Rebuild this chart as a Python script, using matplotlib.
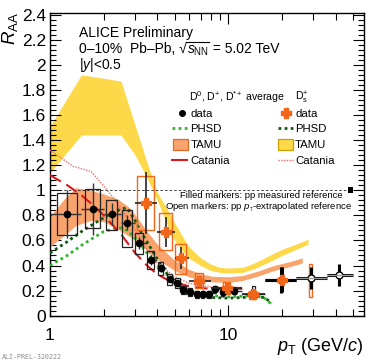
import numpy as np
import matplotlib
matplotlib.use("Agg")
import matplotlib.pyplot as plt
from matplotlib.patches import Rectangle
from matplotlib.lines import Line2D
from matplotlib.ticker import FixedLocator, NullFormatter, FuncFormatter

plt.rcParams.update({
    "font.family": ["Liberation Sans", "DejaVu Sans"],
    "mathtext.fontset": "custom",
    "mathtext.rm": "Liberation Sans",
    "mathtext.it": "Liberation Sans:italic",
    "mathtext.bf": "Liberation Sans:bold",
})

# ── data: D0, D+, D*+ average (pp measured reference) ──────────────────────
davg_lo  = [1, 1.5, 2, 2.5, 3, 3.5, 4, 4.5, 5, 5.5, 6, 6.5, 7, 7.5, 8, 9, 10, 12, 16]
davg_hi  = [1.5, 2, 2.5, 3, 3.5, 4, 4.5, 5, 5.5, 6, 6.5, 7, 7.5, 8, 9, 10, 12, 16, 24]
davg_pt  = [1.25, 1.74, 2.23, 2.71, 3.17, 3.68, 4.17, 4.7, 5.18, 5.6, 6.1, 6.65, 7.18,
            7.8, 8.4, 9.3, 10.8, 13.8, 19.7]
davg_raa = [0.81, 0.85, 0.81, 0.74, 0.58, 0.445, 0.38, 0.29, 0.26, 0.205, 0.19, 0.17,
            0.17, 0.17, 0.21, 0.19, 0.20, 0.17, 0.285]
davg_stat = [0.19, 0.21, 0.09, 0.06, 0.05, 0.04, 0.03, 0.025, 0.02, 0.015, 0.015, 0.015,
             0.015, 0.015, 0.015, 0.015, 0.015, 0.03, 0.105]
davg_syslo = [0.17, 0.15, 0.13, 0.19, 0.09, 0.075, 0.055, 0.045, 0.04, 0.03, 0.03, 0.025,
              0.025, 0.025, 0.03, 0.03, 0.03, 0.025, 0.0]
davg_syshi = [0.17, 0.16, 0.11, 0.10, 0.08, 0.07, 0.05, 0.045, 0.04, 0.03, 0.03, 0.025,
              0.025, 0.025, 0.03, 0.03, 0.03, 0.065, 0.0]

# pp pT-extrapolated reference (open markers)
dext_lo   = [24, 36]
dext_hi   = [36, 50]
dext_pt   = [29.0, 41.8]
dext_raa  = [0.30, 0.325]
dext_stat = [0.085, 0.09]

# ── data: Ds+ ──────────────────────────────────────────────────────────────
ds_lo   = [3, 4, 5, 6, 8, 12, 16]
ds_hi   = [4, 5, 6, 8, 12, 16, 24]
ds_pt   = [3.44, 4.46, 5.41, 6.88, 9.8, 13.7, 19.9]
ds_raa  = [0.90, 0.665, 0.46, 0.28, 0.22, 0.17, 0.285]
ds_stat = [0.245, 0.12, 0.09, 0.04, 0.035, 0.025, 0.10]
ds_syslo = [0.215, 0.145, 0.13, 0.06, 0.05, 0.04, 0.0]
ds_syshi = [0.21, 0.15, 0.11, 0.06, 0.045, 0.03, 0.0]
dsext_pt, dsext_raa, dsext_syslo, dsext_syshi = [29.0], [0.30], [0.15], [0.11]

norm_unc = 0.025

# ── models ────────────────────────────────────────────────────────────────
tamu_ds_pt = [1.0, 1.5, 2.5, 3.0, 3.5, 4.0, 4.5, 5.0, 5.5, 6.0, 7.0, 8.0, 9.0, 10, 12, 14, 17, 20, 25, 28]
tamu_ds_hi = [1.51, 1.92, 1.87, 1.52, 1.22, 0.98, 0.86, 0.74, 0.64, 0.55, 0.46, 0.41, 0.385,
              0.38, 0.385, 0.42, 0.48, 0.53, 0.58, 0.61]
tamu_ds_lo = [1.14, 1.44, 1.44, 1.28, 1.10, 0.92, 0.74, 0.60, 0.52, 0.46, 0.40, 0.36, 0.345,
              0.34, 0.345, 0.375, 0.43, 0.48, 0.54, 0.57]

tamu_d_pt = [1.0, 1.2, 1.4, 1.7, 2.0, 2.4, 2.8, 3.2, 3.6, 4.0, 5.0, 6.0, 7.0, 8.0, 10, 12, 15, 18, 22, 26]
tamu_d_hi = [0.79, 0.93, 1.02, 1.00, 0.97, 0.93, 0.86, 0.75, 0.65, 0.57, 0.44, 0.37, 0.335,
             0.315, 0.31, 0.32, 0.36, 0.40, 0.43, 0.46]
tamu_d_lo = [0.55, 0.64, 0.72, 0.76, 0.75, 0.69, 0.63, 0.57, 0.50, 0.45, 0.36, 0.31, 0.285,
             0.27, 0.265, 0.28, 0.32, 0.36, 0.39, 0.42]

phsd_pt   = [1.0, 1.25, 1.5, 1.75, 2.0, 2.25, 2.5, 2.7, 3.0, 3.2, 3.6, 4.0, 4.5, 5.0, 6.0,
             7.0, 8.0, 10, 12, 14, 16, 17.5]
phsd_d    = [0.40, 0.48, 0.56, 0.62, 0.67, 0.69, 0.70, 0.68, 0.62, 0.57, 0.48, 0.40, 0.33,
             0.27, 0.205, 0.17, 0.16, 0.15, 0.155, 0.16, 0.14, 0.09]
phsd_ds   = [0.50, 0.59, 0.67, 0.73, 0.78, 0.82, 0.85, 0.86, 0.76, 0.68, 0.56, 0.45, 0.34,
             0.26, 0.19, 0.155, 0.145, 0.14, 0.145, 0.15, 0.145, 0.10]

cat_pt    = [1.0, 1.25, 1.5, 1.75, 2.0, 2.5, 3.0, 3.5, 4.0, 4.5, 5.0, 6.0, 7.0, 8.0, 10, 12]
cat_d     = [1.12, 1.04, 0.96, 0.88, 0.80, 0.65, 0.50, 0.40, 0.33, 0.29, 0.265, 0.235,
             0.22, 0.215, 0.215, 0.215]
cat_ds_pt = [1.0, 1.35, 1.7, 1.9, 2.27, 2.93, 3.5, 4.0, 5.0, 6.0, 7.0, 8.0, 10, 12]
cat_ds    = [1.32, 1.19, 1.15, 1.07, 0.94, 0.71, 0.53, 0.42, 0.31, 0.26, 0.24, 0.23, 0.225, 0.225]

# ── colours ───────────────────────────────────────────────────────────────
C_DS    = "#f2661a"
C_YEL   = "#fdd94a"
C_ORB   = "#f8a46c"
C_PHSDD = "#2fb52f"
C_PHSDS = "#0d5a0d"
C_CATD  = "#d71920"
C_CATS  = "#f06a6a"

W, H = 374, 362
fig = plt.figure(figsize=(W / 100, H / 100), dpi=100)
AX_L, AX_R, AX_T, AX_B = 50, 364, 13.3, 315.7
ax = fig.add_axes([AX_L / W, 1 - AX_B / H, (AX_R - AX_L) / W, (AX_B - AX_T) / H])
ax.set_xscale("log")
ax.set_xlim(1, 57.7)
ax.set_ylim(0, 2.41)


def px2ax(px, py):
    return (px - AX_L) / (AX_R - AX_L), (AX_B - py) / (AX_B - AX_T)


def boxes(pt, raa, slo, shi, halfw, color, lw):
    for x, y, lo, hi, hw in zip(pt, raa, slo, shi, halfw):
        if lo == 0 and hi == 0:
            continue
        ax.add_patch(Rectangle((x - hw, y - lo), 2 * hw, lo + hi, fill=False,
                               edgecolor=color, lw=lw, zorder=5))


# bands
ax.fill_between(tamu_ds_pt, tamu_ds_lo, tamu_ds_hi, color=C_YEL, lw=0, zorder=1)
ax.fill_between(tamu_d_pt, tamu_d_lo, tamu_d_hi, color=C_ORB, lw=0, zorder=2)

# curves
ax.plot(phsd_pt, phsd_d, color=C_PHSDD, ls=(0, (1, 1.2)), lw=2.0, zorder=3)
ax.plot(phsd_pt, phsd_ds, color=C_PHSDS, ls=(0, (1, 1.2)), lw=2.0, zorder=3)
ax.plot(cat_pt, cat_d, color=C_CATD, ls=(0, (6, 3)), lw=1.5, zorder=3)
ax.plot(cat_ds_pt, cat_ds, color=C_CATS, ls=(0, (1, 1)), lw=1.0, zorder=3)

# unity line + normalisation box
ax.axhline(1, xmax=px2ax(346.7, 0)[0], color="#222222", ls=(0, (3, 2.5)), lw=0.6, zorder=2)
ax.add_patch(Rectangle((47.1, 1 - norm_unc), 2.8, 2 * norm_unc, color="k", lw=0, zorder=6))

# D average: systematic boxes
davg_pt_a = np.array(davg_pt)
boxes(davg_pt, davg_raa, davg_syslo, davg_syshi,
      np.maximum(0.16, 0.022 * davg_pt_a), "#222222", 0.9)
# Ds: systematic boxes
ds_pt_a = np.array(ds_pt)
boxes(ds_pt, ds_raa, ds_syslo, ds_syshi, np.clip(0.048 * ds_pt_a, 0.38, 0.65), C_DS, 1.0)
boxes(dsext_pt, dsext_raa, dsext_syslo, dsext_syshi, [0.6], C_DS, 1.0)

# D average points
xerr = [np.array(davg_pt) - np.array(davg_lo), np.array(davg_hi) - np.array(davg_pt)]
n_low = len(davg_pt) - 1
ax.errorbar(davg_pt[:n_low], davg_raa[:n_low], yerr=davg_stat[:n_low],
            xerr=[xerr[0][:n_low], xerr[1][:n_low]], fmt="o", color="k", ms=4.5,
            ecolor="#333333", elinewidth=1.0, capsize=0, zorder=7)
ax.errorbar(davg_pt[n_low:], davg_raa[n_low:], yerr=davg_stat[n_low:],
            xerr=[xerr[0][n_low:], xerr[1][n_low:]], fmt="o", color="k", ms=4.5,
            ecolor="k", elinewidth=2.2, capsize=0, zorder=7)
xerr_e = [np.array(dext_pt) - np.array(dext_lo), np.array(dext_hi) - np.array(dext_pt)]
ax.errorbar(dext_pt, dext_raa, yerr=dext_stat, xerr=xerr_e, fmt="o", ms=5,
            mfc="white", mec="k", mew=1.0, ecolor="k", elinewidth=2.2, capsize=0,
            zorder=7)
ax.errorbar(dext_pt, dext_raa, xerr=xerr_e, fmt="none", ecolor="#9a9a9a",
            elinewidth=1.0, capsize=0, zorder=7.5)

# Ds points
xerr_s = [np.array(ds_pt) - np.array(ds_lo), np.array(ds_hi) - np.array(ds_pt)]
ax.errorbar(ds_pt[:-1], ds_raa[:-1], yerr=ds_stat[:-1],
            xerr=[xerr_s[0][:-1], xerr_s[1][:-1]], fmt="none", ecolor="#222222",
            elinewidth=1.2, capsize=0, zorder=8)
ax.errorbar(ds_pt[-1:], ds_raa[-1:], yerr=ds_stat[-1:],
            xerr=[xerr_s[0][-1:], xerr_s[1][-1:]], fmt="none", ecolor="k",
            elinewidth=2.2, capsize=0, zorder=8)
ax.plot(ds_pt, ds_raa, "P", color=C_DS, ms=7, mec=C_DS, zorder=9)

# ── axes style ────────────────────────────────────────────────────────────
ax.xaxis.set_major_locator(FixedLocator([1, 10]))
ax.xaxis.set_minor_locator(FixedLocator([2, 3, 4, 5, 6, 7, 8, 9, 20, 30, 40, 50]))
ax.xaxis.set_minor_formatter(NullFormatter())
ax.xaxis.set_major_formatter(FuncFormatter(lambda v, p: f"{v:g}"))
ax.yaxis.set_major_locator(FixedLocator(np.arange(0, 2.41, 0.2)))
ax.yaxis.set_minor_locator(FixedLocator(np.arange(0, 2.41, 0.04)))
ax.yaxis.set_major_formatter(FuncFormatter(lambda v, p: f"{round(v, 1):g}"))
ax.tick_params(which="both", direction="in", top=True, right=True, width=0.8,
               labelsize=12.5, colors="k")
ax.tick_params(axis="y", which="major", length=8, pad=3)
ax.tick_params(axis="y", which="minor", length=4)
ax.tick_params(axis="x", which="major", length=8, pad=9)
ax.tick_params(axis="x", which="minor", length=5)
for sp in ax.spines.values():
    sp.set_linewidth(1.0)


def ftext(px, py, s, **kw):
    return fig.text(px / W, 1 - py / H, s, **kw)


# axis titles
ftext(10, 12, r"$R_{\rm AA}$", fontsize=13.5, rotation=90, ha="center", va="top")
ftext(364, 351, r"$p_{\rm T}$ (GeV/$c$)", fontsize=13, ha="right", va="baseline")

# header text
ftext(79, 36.7, "ALICE Preliminary", fontsize=10, va="baseline")
ftext(79, 69.5, r"|$y$|<0.5", fontsize=10, va="baseline")

# second line, square root built by hand (radical + overline)
renderer = fig.canvas.get_renderer()
BASE = 53.3
t1 = ftext(79, BASE, "0–10%  Pb–Pb, √", fontsize=10, va="baseline")
xr = t1.get_window_extent(renderer).x1
t2 = fig.text(xr / W, 1 - BASE / H, r"$s_{\rm NN}$", fontsize=10, va="baseline")
xs = t2.get_window_extent(renderer).x1
fig.text(xs / W, 1 - BASE / H, " = 5.02 TeV", fontsize=10, va="baseline")
ybar = 1 - (BASE - 11.2) / H
fig.add_artist(Line2D([(xr - 1.2) / W, (xs + 0.5) / W], [ybar, ybar], color="k",
                      lw=0.8, transform=fig.transFigure))

ftext(2, 357, "ALI-PREL-320222", fontsize=4.8, family="DejaVu Sans Mono",
      color="#8c8c8c", va="center")

# ── legend (drawn by hand, ROOT style) ────────────────────────────────────
LFS = 8.2
ftext(189, 101, r"D$^{0}$, D$^{+}$, D$^{*+}$ average", fontsize=7.6, va="baseline")
ftext(295, 101, r"D$_{\rm s}^{+}$", fontsize=7.6, va="baseline")
rows = {"data": 113.3, "PHSD": 128.3, "TAMU": 144.3, "Catania": 160}
for txt_x in [189.3, 294]:
    for lbl, yy in rows.items():
        ftext(txt_x + 1, yy + 3.6, lbl, fontsize=LFS, va="baseline")

x0, y0 = px2ax(181.7, 113.3)
ax.plot([x0], [y0], "o", color="k", ms=4, transform=ax.transAxes, clip_on=False, zorder=10)
x0, y0 = px2ax(285.5, 113.3)
ax.plot([x0], [y0], "P", color=C_DS, ms=7, transform=ax.transAxes, clip_on=False, zorder=10)
for (a, b), col, ls, lw, yy in [((171.7, 188.3), C_PHSDD, (0, (1, 1.2)), 2.0, 128.3),
                                ((278, 293), C_PHSDS, (0, (1, 1.2)), 2.0, 128.3),
                                ((171.7, 186.7), C_CATD, "-", 1.5, 160),
                                ((278, 293), C_CATS, (0, (1, 1)), 1.0, 160)]:
    xa, ya = px2ax(a, yy)
    xb, _ = px2ax(b, yy)
    ax.add_line(Line2D([xa, xb], [ya, ya], color=col, ls=ls, lw=lw,
                       transform=ax.transAxes, clip_on=False, zorder=10))
for a, b, fc, ec in [(173, 188, C_ORB, "#e06a28"), (278, 293, C_YEL, "#c9a000")]:
    xa, ya = px2ax(a, 150)
    xb, yb = px2ax(b, 139)
    ax.add_patch(Rectangle((xa, ya), xb - xa, yb - ya, facecolor=fc, edgecolor=ec,
                           lw=0.9, transform=ax.transAxes, clip_on=False, zorder=10))

ftext(261, 197.7, "Filled markers: pp measured reference", fontsize=6.8,
      ha="center", va="baseline")
ftext(259, 209, r"Open markers: pp $p_{_{\rm T}}$-extrapolated reference", fontsize=6.8,
      ha="center", va="baseline")

fig.savefig("out.png", dpi=100)
